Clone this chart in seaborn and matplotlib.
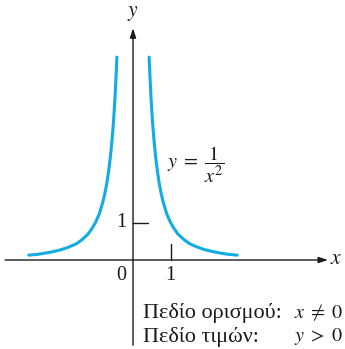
import numpy as np
import pandas as pd
import matplotlib
matplotlib.use('Agg')
import matplotlib.pyplot as plt
import seaborn as sns

x_right = [0.43, 0.45, 0.48, 0.5, 0.53, 0.56, 0.6, 0.65, 0.7, 0.75, 0.8, 0.9,
           1.0, 1.1, 1.2, 1.35, 1.5, 1.7, 1.9, 2.1, 2.3, 2.55, 2.78]
y_right = [5.41, 4.94, 4.34, 4.0, 3.56, 3.19, 2.78, 2.37, 2.04, 1.78, 1.56, 1.23,
           1.0, 0.83, 0.69, 0.55, 0.44, 0.35, 0.28, 0.23, 0.19, 0.15, 0.13]
x_left = [-v for v in x_right]
y_left = list(y_right)

domain_label = 'Πεδίο ορισμού:'
range_label = 'Πεδίο τιμών:'

sns.set_style('white')
plt.rcParams['font.family'] = ['Liberation Serif', 'DejaVu Serif']
plt.rcParams['mathtext.fontset'] = 'stix'

blue = '#12ABE6'
ink = '#1a1a1a'

fig = plt.figure(figsize=(3.45, 3.49), dpi=100)
ax = fig.add_axes([0, 0, 1, 1])

right = pd.DataFrame({'x': x_right, 'y': y_right})
left = pd.DataFrame({'x': x_left, 'y': y_left})
sns.lineplot(data=right, x='x', y='y', color=blue, lw=2.2, sort=False, ax=ax)
sns.lineplot(data=left, x='x', y='y', color=blue, lw=2.2, sort=False, ax=ax)

ax.set_xlim(-3.547, 5.653)
ax.set_ylim(-2.373, 6.933)
ax.axis('off')

# axes with arrows
arrow = dict(arrowstyle='-|>,head_length=0.55,head_width=0.18', color=ink, lw=1.0,
             shrinkA=0, shrinkB=0)
ax.annotate('', xy=(5.2, 0), xytext=(-3.41, 0), arrowprops=arrow)
ax.annotate('', xy=(0, 6.18), xytext=(0, -2.27), arrowprops=arrow)

# ticks
ax.plot([0, 0.4], [1, 1], color=ink, lw=1.0)
ax.plot([1, 1], [0, 0.43], color=ink, lw=1.0)

fs = 14.5
ax.text(-0.3, 1, '1', fontsize=fs, ha='center', va='center', color=ink)
ax.text(-0.32, -0.42, '0', fontsize=fs, ha='center', va='center', color=ink)
ax.text(1, -0.42, '1', fontsize=fs, ha='center', va='center', color=ink)
ax.text(5.42, 0.02, '$x$', fontsize=fs + 1, ha='center', va='center', color=ink)
ax.text(0, 6.56, '$y$', fontsize=fs + 1, ha='center', va='center', color=ink)

ax.text(0.9, 2.53, r'$y\;=\;\dfrac{1}{x^2}$', fontsize=fs, ha='left', va='center',
        color=ink)

ax.text(0.27, -1.41, domain_label, fontsize=fs + 1.5, ha='left', va='center', color=ink)
ax.text(5.6, -1.41, r'$x\;\neq\;0$', fontsize=fs, ha='right', va='center', color=ink)
ax.text(0.27, -2.05, range_label, fontsize=fs + 1.5, ha='left', va='center', color=ink)
ax.text(5.6, -2.05, r'$y\;>\;0$', fontsize=fs, ha='right', va='center', color=ink)

fig.savefig('out.png', dpi=100, facecolor='white')
